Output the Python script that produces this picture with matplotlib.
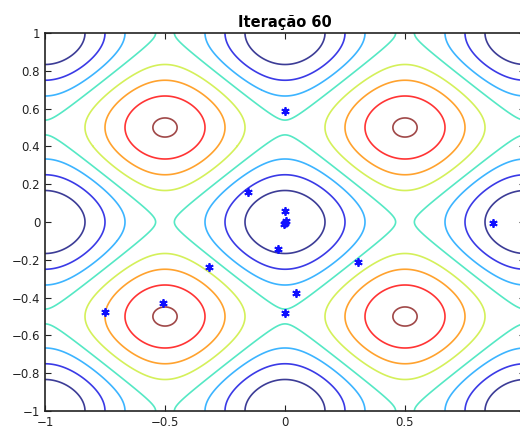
import numpy as np
import matplotlib
matplotlib.use('Agg')
import matplotlib.pyplot as plt

# particle positions at iteration 60
px = [0.0, -0.154, 0.0, 0.0, 0.004, -0.004, -0.029, -0.316, 0.304, 0.867,
      -0.75, -0.508, 0.0, 0.046]
py = [0.589, 0.158, 0.058, -0.005, 0.005, -0.01, -0.142, -0.237, -0.21, -0.005,
      -0.474, -0.426, -0.484, -0.374]

levels = [-1.5, -1.0, -0.5, -0.03, 0.5, 1.0, 1.5, 1.95]
level_colors = ['#3c3c96', '#3a3ae6', '#3cb4ff', '#55e8c4',
                '#d4f05a', '#ffa22e', '#ff3434', '#a04848']

x = np.linspace(-1, 1.1, 421)
y = np.linspace(-1, 1, 401)
X, Y = np.meshgrid(x, y)
Z = -(np.cos(2 * np.pi * X) + np.cos(2 * np.pi * Y))

fig = plt.figure(figsize=(5.2, 4.32), dpi=100)
# the reference is cropped on the right, so the axes run past the figure edge
ax = fig.add_axes([45 / 520, 1 - 411 / 432, 480 / 520, 378 / 432])

ax.contour(X, Y, Z, levels=levels, colors=level_colors, linewidths=1.2)
ax.plot(px, py, linestyle='none', marker=(6, 2, 0), color='#1010ff',
        markersize=6, markeredgewidth=1.3)

ax.set_xlim(-1, 1)
ax.set_ylim(-1, 1)
xt = [-1, -0.5, 0, 0.5]
ax.set_xticks(xt)
ax.set_xticklabels([('%g' % v).replace('-', '\u2212') for v in xt])
yt = [-1, -0.8, -0.6, -0.4, -0.2, 0, 0.2, 0.4, 0.6, 0.8, 1]
ax.set_yticks(yt)
ax.set_yticklabels([('%g' % v).replace('-', '\u2212') for v in yt])
ax.tick_params(direction='in', length=4, labelsize=8.5, colors='#222222',
               top=True, right=True)
for s in ax.spines.values():
    s.set_linewidth(1.2)
    s.set_color('#222222')

ax.set_title('Iteração 60', fontsize=10.5, fontweight='bold', pad=4)

fig.savefig('out.png', dpi=100)
